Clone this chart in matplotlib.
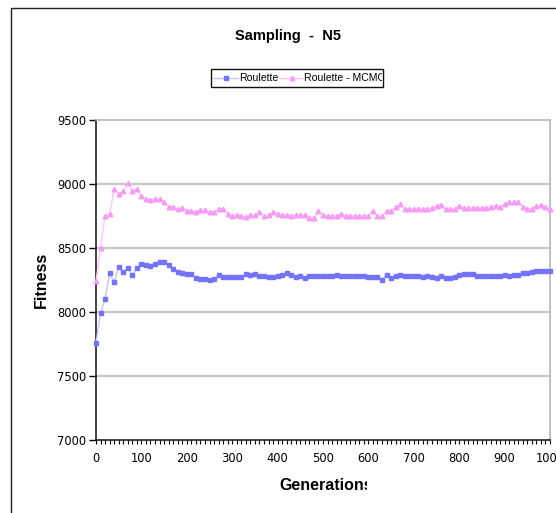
import matplotlib
matplotlib.use("Agg")
import matplotlib.pyplot as plt
from matplotlib.lines import Line2D
from matplotlib.patches import Rectangle
from matplotlib.transforms import Bbox
from matplotlib.ticker import MultipleLocator

# ----------------- data -----------------
generations = list(range(0, 1001, 10))

roulette = [
    7760, 7990, 8102, 8302, 8232, 8349, 8310, 8341, 8286, 8341,
    8377, 8369, 8357, 8372, 8388, 8393, 8365, 8336, 8310, 8302,
    8294, 8294, 8266, 8255, 8255, 8248, 8255, 8286, 8271, 8271,
    8271, 8271, 8271, 8294, 8286, 8294, 8279, 8279, 8271, 8271,
    8284, 8286, 8302, 8286, 8271, 8279, 8263, 8284, 8284, 8284,
    8284, 8284, 8284, 8291, 8284, 8284, 8284, 8284, 8284, 8284,
    8276, 8276, 8276, 8253, 8289, 8268, 8284, 8291, 8279, 8279,
    8279, 8279, 8276, 8280, 8275, 8267, 8280, 8267, 8267, 8275,
    8288, 8293, 8293, 8293, 8280, 8280, 8280, 8280, 8280, 8280,
    8288, 8280, 8288, 8288, 8307, 8301, 8312, 8317, 8317, 8317,
    8317,
]

roulette_mcmc = [
    8240, 8498, 8752, 8766, 8961, 8922, 8948, 9010, 8945, 8963,
    8909, 8883, 8875, 8883, 8885, 8857, 8820, 8818, 8805, 8812,
    8791, 8791, 8784, 8798, 8793, 8781, 8781, 8807, 8807, 8763,
    8750, 8760, 8750, 8742, 8755, 8755, 8778, 8750, 8760, 8778,
    8768, 8755, 8760, 8750, 8760, 8760, 8755, 8737, 8732, 8791,
    8758, 8750, 8750, 8750, 8766, 8750, 8750, 8750, 8750, 8750,
    8750, 8786, 8750, 8750, 8791, 8791, 8818, 8841, 8805, 8805,
    8805, 8805, 8805, 8808, 8812, 8828, 8836, 8805, 8805, 8805,
    8831, 8812, 8812, 8812, 8812, 8812, 8812, 8823, 8831, 8818,
    8841, 8857, 8857, 8857, 8823, 8805, 8805, 8831, 8836, 8818,
    8805,
]

y_ticks = [7000, 7500, 8000, 8500, 9000, 9500]
x_ticks = list(range(0, 1001, 100))

W, H = 556, 513
blue_line, blue_mark = "#c4c4ff", "#7373ff"
pink_line, pink_mark = "#ffc4ff", "#f79af7"

fig = plt.figure(figsize=(W / 100, H / 100), dpi=100)
fig.patch.set_facecolor("white")


def px(x, y):
    # pixel coords (from top-left) -> figure fraction
    return x / W, 1 - y / H


def clip_px(x0, x1):
    return Bbox.from_extents(x0, 0, x1, H)


# outer chart border (cropped on the right / bottom)
fig.add_artist(Line2D([11 / W, 11 / W, 1.0], [0.0, 1 - 8 / H, 1 - 8 / H],
                      color="#202020", lw=1.0, transform=fig.transFigure))

l, b = px(96, 440)
r, t = px(550, 120)
ax = fig.add_axes([l, b, r - l, t - b])

ax.plot(generations, roulette, color=blue_line, lw=1.0, marker="s", ms=2.8,
        mfc=blue_mark, mec=blue_mark, zorder=3, clip_on=False)
ax.plot(generations, roulette_mcmc, color=pink_line, lw=1.0, marker="^", ms=3.3,
        mfc=pink_mark, mec=pink_mark, zorder=3, clip_on=False)

ax.set_xlim(0, 1000)
ax.set_ylim(7000, 9500)
ax.set_yticks(y_ticks)
ax.set_xticks(x_ticks)
ax.xaxis.set_minor_locator(MultipleLocator(10))
for y in y_ticks[1:-1]:
    ax.axhline(y, color="#c8c8c8", lw=1.6, zorder=1)

for side in ["top", "right"]:
    ax.spines[side].set_color("#b8b8b8")
    ax.spines[side].set_linewidth(1.2)
for side in ["left", "bottom"]:
    ax.spines[side].set_color("#222222")
    ax.spines[side].set_linewidth(1.2)

ax.tick_params(axis="y", direction="out", length=5, width=1, labelsize=8.3, pad=2)
ax.tick_params(axis="x", which="both", direction="out", length=3, width=0.8,
               labelsize=8.3, pad=6)

fnt = "DejaVu Sans"
bold_fnt = "Liberation Sans"
for lab in ax.get_xticklabels() + ax.get_yticklabels():
    lab.set_family(fnt)

# title, clipped like the original
ttl = fig.text(*px(235, 36), "Sampling  -  N50", ha="left", va="center",
               fontsize=10.5, fontweight="bold", family=bold_fnt)
ttl.set_clip_box(clip_px(0, 341))
ttl.set_clip_on(True)

xl = fig.text(*px(279, 485), "Generations", ha="left", va="center",
              fontsize=11.5, fontweight="bold", family=bold_fnt)
xl.set_clip_box(clip_px(0, 367))
xl.set_clip_on(True)

fig.text(*px(41, 280), "Fitness", ha="center", va="center", rotation=90,
         fontsize=11.5, fontweight="bold", family=bold_fnt)

# legend box
lx0, ly0 = px(211, 87)
lx1, ly1 = px(383, 69)
fig.add_artist(Rectangle((lx0, ly0), lx1 - lx0, ly1 - ly0, transform=fig.transFigure,
                         fill=False, edgecolor="#111111", lw=1.0))
ym = 1 - 78 / H
fig.add_artist(Line2D([213 / W, 238 / W], [ym, ym], color=blue_line, lw=1.0,
                      transform=fig.transFigure))
fig.add_artist(Line2D([225.5 / W], [ym], marker="s", ms=2.8, color=blue_mark,
                      transform=fig.transFigure))
fig.text(239 / W, ym, "Roulette", ha="left", va="center", fontsize=7.6,
         family=bold_fnt)
fig.add_artist(Line2D([280 / W, 303 / W], [ym, ym], color=pink_line, lw=1.0,
                      transform=fig.transFigure))
fig.add_artist(Line2D([291.5 / W], [ym], marker="^", ms=3.3, color=pink_mark,
                      transform=fig.transFigure))
lt = fig.text(304 / W, ym, "Roulette - MCMC", ha="left", va="center",
              fontsize=7.6, family=bold_fnt)
lt.set_clip_box(clip_px(0, 382))
lt.set_clip_on(True)

fig.savefig("out.png", dpi=100, facecolor="white")
